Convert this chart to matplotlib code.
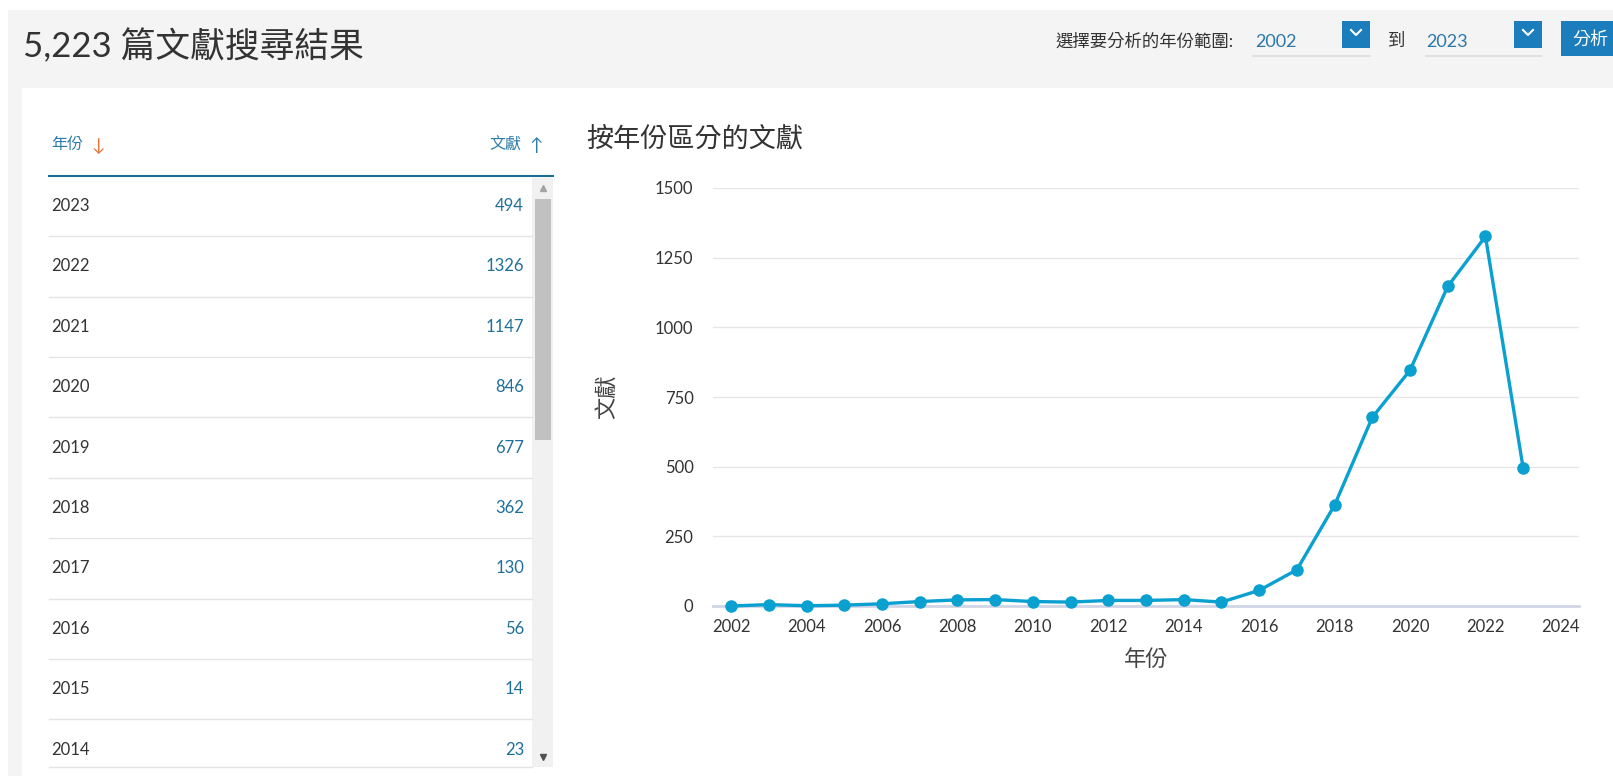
import matplotlib.pyplot as plt
from matplotlib.patches import Rectangle

plt.rcParams['font.family'] = ['Lato', 'Noto Sans CJK TC', 'DejaVu Sans']

# data
years = [2002, 2003, 2004, 2005, 2006, 2007, 2008, 2009, 2010, 2011, 2012, 2013,
         2014, 2015, 2016, 2017, 2018, 2019, 2020, 2021, 2022, 2023]
counts = [0, 5, 1, 3, 8, 16, 22, 23, 16, 14, 20, 20,
          23, 14, 56, 130, 362, 677, 846, 1147, 1326, 494]
table_years = [2023, 2022, 2021, 2020, 2019, 2018, 2017, 2016, 2015, 2014]
table_counts = [494, 1326, 1147, 846, 677, 362, 130, 56, 14, 23]
x_ticks = list(range(2002, 2025, 2))
y_ticks = [0, 250, 500, 750, 1000, 1250, 1500]

W, H = 1613, 776
fig = plt.figure(figsize=(W / 100, H / 100), dpi=100)

# page layer in pixel coordinates
ov = fig.add_axes([0, 0, 1, 1], zorder=0)
ov.set_xlim(0, W)
ov.set_ylim(H, 0)
ov.axis('off')

gray = '#f4f4f4'
blue = '#1b7dbc'
ov.add_patch(Rectangle((8, 10), W - 8, 78, color=gray, lw=0))
ov.add_patch(Rectangle((8, 10), 14, H - 10, color=gray, lw=0))

ov.text(23, 46, '5,223 篇文獻搜尋結果', fontsize=25, color='#333333', va='center', ha='left')

# year range selector
ov.text(1055, 41, '選擇要分析的年份範圍:', fontsize=12.5, color='#333333', va='center', ha='left')
ov.text(1255, 42, '2002', fontsize=13, color='#2a78ab', va='center', ha='left')
ov.plot([1253, 1370], [56, 56], color='#dcdcdc', lw=1.2)
ov.text(1388, 41, '到', fontsize=12.5, color='#333333', va='center', ha='left')
ov.text(1426, 42, '2023', fontsize=13, color='#2a78ab', va='center', ha='left')
ov.plot([1426, 1541], [56, 56], color='#dcdcdc', lw=1.2)
for bx in [1342, 1514]:
    ov.add_patch(Rectangle((bx, 21), 28, 27, color=blue, lw=0))
    ov.plot([bx + 9, bx + 14, bx + 19], [30, 35, 30], color='white', lw=1.5)
ov.add_patch(Rectangle((1561, 21), W - 1561, 35, color=blue, lw=0))
ov.text(1572, 39, '分析', fontsize=13, color='white', va='center', ha='left')

# table
ov.text(51, 145, '年份', fontsize=11.5, color='#2e7fa8', va='center', ha='left')
ov.text(91, 146, '↓', fontsize=13, color='#e8743b', va='center', ha='left')
ov.text(489, 145, '文獻', fontsize=11.5, color='#2e7fa8', va='center', ha='left')
ov.text(529, 146, '↑', fontsize=13, color='#2e7fa8', va='center', ha='left')
ov.plot([49, 553], [176, 176], color='#1a6e91', lw=1.5)

row_h = 60.4
for i, (yr, n) in enumerate(zip(table_years, table_counts)):
    cy = 206 + i * row_h
    ov.text(51, cy, str(yr), fontsize=12, color='#333333', va='center', ha='left')
    ov.text(524, cy, str(n), fontsize=12, color='#1f6f9a', va='center', ha='right')
    sep = min(cy + row_h / 2, 767)
    ov.plot([49, 532], [sep, sep], color='#e4e4e4', lw=1)

# scrollbar
ov.add_patch(Rectangle((532, 178), 21, 589, color='#f1f1f1', lw=0))
ov.add_patch(Rectangle((535, 199), 16, 241, color='#c1c1c1', lw=0))
ov.plot([543], [188], marker='^', ms=5, color='#a3a3a3', ls='none')
ov.plot([543], [757], marker='v', ms=5, color='#505050', ls='none')

# chart
ov.text(586, 139, '按年份區分的文獻', fontsize=19.5, color='#333333', va='center', ha='left')

left, right, top, bottom = 713, 1579, 188, 606
ax = fig.add_axes([left / W, (H - bottom) / H, (right - left) / W, (bottom - top) / H], zorder=1)
ax.set_facecolor('none')
ax.plot(years, counts, color='#0aa0cf', lw=2.4, marker='o', ms=8, clip_on=False, zorder=3)
ax.set_xlim(2001.52, 2024.48)
ax.set_ylim(0, 1500)
ax.set_xticks(x_ticks)
ax.set_yticks(y_ticks)
ax.grid(axis='y', color='#e6e6e6', lw=1)
ax.set_axisbelow(True)
for s in ['top', 'right', 'left']:
    ax.spines[s].set_visible(False)
ax.spines['bottom'].set_color('#d0d5e6')
ax.spines['bottom'].set_linewidth(2)
ax.tick_params(length=0, labelsize=12, labelcolor='#333333')
ax.tick_params(axis='y', pad=14)
ax.tick_params(axis='x', pad=9)

ov.text(1146, 660, '年份', fontsize=16, color='#444444', va='center', ha='center')
ov.text(607, 397, '文獻', fontsize=16, color='#444444', va='center', ha='center', rotation=90)

fig.savefig('out.png', dpi=100)
